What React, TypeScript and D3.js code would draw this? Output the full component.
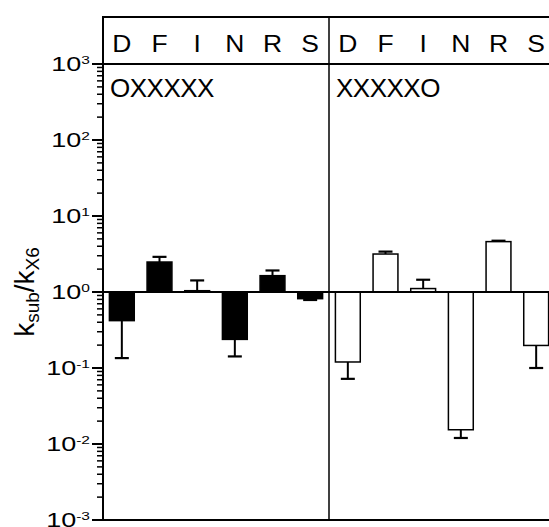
import React from "react";
import * as d3 from "d3";

const categories = ["D", "F", "I", "N", "R", "S"];
const panelLabels = ["OXXXXX", "XXXXXO"];
const oxValues = [0.42, 2.48, 1.04, 0.238, 1.64, 0.817];
const oxErr = [0.135, 2.9, 1.42, 0.142, 1.92, 0.785];
const xoValues = [0.12, 3.16, 1.11, 0.0154, 4.6, 0.198];
const xoErr = [0.072, 3.4, 1.45, 0.012, 4.73, 0.1];
const tickExponents = [3, 2, 1, 0, -1, -2, -3];

const W = 549;
const H = 527;
const FONT = "'Liberation Sans', Arial, Helvetica, sans-serif";

export default function App() {
  const axisX = 103;
  const panelW = 226;
  const top = 17;
  const headerY = 64;
  const bottom = 520;

  const y = d3.scaleLog().domain([1e-3, 1e3]).range([bottom, headerY]);
  const panels = [
    { x0: axisX, values: oxValues, err: oxErr, fill: "#000", label: panelLabels[0] },
    { x0: axisX + panelW, values: xoValues, err: xoErr, fill: "#fff", label: panelLabels[1] },
  ];

  const minorTicks: number[] = [];
  for (let e = -3; e < 3; e++) {
    for (let m = 2; m <= 9; m++) minorTicks.push(m * Math.pow(10, e));
  }

  const y1 = y(1);

  return (
    <svg width={W} height={H} style={{ display: "block", position: "absolute", left: 0, top: 0 }} fontFamily={FONT}>
      <rect x={0} y={0} width={W} height={H} fill="#fff" />
      {panels.map((p, pi) => {
        const x = d3
          .scaleBand<string>()
          .domain(categories)
          .range([p.x0, p.x0 + panelW])
          .paddingInner(0.34)
          .paddingOuter(0.17);
        const bw = x.bandwidth();
        return (
          <g key={pi}>
            {categories.map((c, i) => {
              const v = p.values[i];
              const e = p.err[i];
              const cx = (x(c) as number) + bw / 2;
              const yv = y(v);
              const ye = y(e);
              return (
                <g key={c}>
                  <rect
                    x={x(c)}
                    y={Math.min(yv, y1)}
                    width={bw}
                    height={Math.abs(yv - y1)}
                    fill={p.fill}
                    stroke="#000"
                    strokeWidth={1.5}
                  />
                  <line x1={cx} x2={cx} y1={yv} y2={ye} stroke="#000" strokeWidth={2} />
                  <line x1={cx - 7} x2={cx + 7} y1={ye} y2={ye} stroke="#000" strokeWidth={2.2} />
                </g>
              );
            })}
            {categories.map((c) => (
              <text
                key={"h" + c}
                transform={`translate(${(x(c) as number) + bw / 2}, 51.5) scale(1.15,1)`}
                textAnchor="middle"
                fontSize={23}
                fill="#000"
              >
                {c}
              </text>
            ))}
            <text x={p.x0 + 7} y={96.5} fontSize={26} fill="#000" letterSpacing={-0.5}>
              {p.label}
            </text>
          </g>
        );
      })}
      {/* baseline at 1 */}
      <line x1={axisX} x2={W + 10} y1={y1} y2={y1} stroke="#000" strokeWidth={2} />
      {/* frame */}
      <line x1={axisX} x2={W + 10} y1={top} y2={top} stroke="#000" strokeWidth={2} />
      <line x1={axisX} x2={W + 10} y1={headerY} y2={headerY} stroke="#000" strokeWidth={2} />
      <line x1={axisX - 8} x2={W + 10} y1={bottom} y2={bottom} stroke="#000" strokeWidth={2} />
      <line x1={axisX} x2={axisX} y1={top - 1} y2={bottom + 1} stroke="#000" strokeWidth={2} />
      <line x1={axisX + panelW} x2={axisX + panelW} y1={top - 1} y2={bottom + 1} stroke="#000" strokeWidth={1.5} />
      {/* minor ticks */}
      {minorTicks.map((t, i) => (
        <line key={i} x1={axisX - 6} x2={axisX} y1={y(t)} y2={y(t)} stroke="#000" strokeWidth={1.5} />
      ))}
      {/* major ticks and labels */}
      {tickExponents.map((e) => {
        const ty = y(Math.pow(10, e));
        return (
          <g key={e}>
            <line x1={axisX - 11} x2={axisX} y1={ty} y2={ty} stroke="#000" strokeWidth={2} />
            <text
              transform={`translate(${axisX - 13}, ${ty}) scale(1.35,1)`}
              textAnchor="end"
              fontSize={20}
              fill="#000"
            >
              <tspan y={6.5}>10</tspan>
              <tspan fontSize={11.5} dy={-6.5}>
                {e < 0 ? "-" + Math.abs(e) : String(e)}
              </tspan>
            </text>
          </g>
        );
      })}
      {/* y title */}
      <text
        transform={`translate(34, ${y1}) rotate(-90)`}
        textAnchor="middle"
        fontSize={28}
        fill="#000"
      >
        k
        <tspan fontSize={19} dy={5}>sub</tspan>
        <tspan dy={-5}>/k</tspan>
        <tspan fontSize={19} dy={5}>X6</tspan>
      </text>
    </svg>
  );
}
